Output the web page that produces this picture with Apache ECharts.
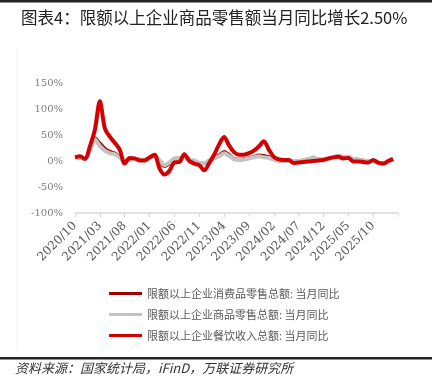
<!DOCTYPE html>
<html>
<head>
<meta charset="utf-8">
<script src="https://cdn.jsdelivr.net/npm/echarts@6/dist/echarts.min.js"></script>
<style>
html,body{margin:0;padding:0;background:#fff}
#chart{width:441px;height:392px}
</style>
</head>
<body>
<div id="chart"></div>
<script>
// 月份（2020/10 - 2026/03），最后一个月只用于坐标轴末端
const months = [
  '2020/10','2020/11','2020/12','2021/01','2021/02','2021/03','2021/04','2021/05','2021/06','2021/07',
  '2021/08','2021/09','2021/10','2021/11','2021/12','2022/01','2022/02','2022/03','2022/04','2022/05',
  '2022/06','2022/07','2022/08','2022/09','2022/10','2022/11','2022/12','2023/01','2023/02','2023/03',
  '2023/04','2023/05','2023/06','2023/07','2023/08','2023/09','2023/10','2023/11','2023/12','2024/01',
  '2024/02','2024/03','2024/04','2024/05','2024/06','2024/07','2024/08','2024/09','2024/10','2024/11',
  '2024/12','2025/01','2025/02','2025/03','2025/04','2025/05','2025/06','2025/07','2025/08','2025/09',
  '2025/10','2025/11','2025/12','2026/01','2026/02','2026/03'
];

const seriesNames = [
  '限额以上企业消费品零售总额: 当月同比',
  '限额以上企业商品零售总额: 当月同比',
  '限额以上企业餐饮收入总额: 当月同比'
];

// 消费品零售总额 当月同比 (%)
const consumerGoods = [
  7, 6, 4, 21, 44, 34, 24, 18, 15, 8,
  0, 3, 4, 3, 2, 6, 9, 0, -10, -5,
  4, 5, 8, 3, 0, -4, -5, 1, 6, 11,
  18, 12, 4, 3, 4, 6, 8, 11, 10, 8,
  3, 1, 0, 1, 0, 0, 2, 3, 6, 3,
  3, 4, 8, 9, 8, 8, 3, 3, 1, 0,
  0, -3, -5, -2, 3
];

// 商品零售总额 当月同比 (%)
const commodityRetail = [
  7, 6, 4, 20, 42, 29, 20, 15, 13, 7,
  0, 3, 4, 3, 2, 6, 9, 2, -8, -3,
  5, 6, 7, 3, 1, -4, -4, 1, 5, 9,
  15, 10, 3, 2, 3, 5, 7, 9, 7, 6,
  3, 1, 0, 1, 0, 0, 2, 4, 7, 3,
  3, 4, 8, 9, 8, 8, 4, 3, 1, 0,
  0, -3, -5, -2, 2.5
];

// 餐饮收入总额 当月同比 (%)
const cateringIncome = [
  7, 9, 4, 28, 60, 115, 63, 47, 35, 22,
  -5, 6, 5, 1, 1, 7, 12, -14, -26, -19,
  -3, -2, 13, 0, -5, -8, -18, -4, 12, 32,
  46, 30, 17, 12, 12, 15, 20, 28, 38, 22,
  8, 3, 2, 2, -4, -3, -2, -1, 0, 1,
  2, 5, 7, 8, 5, 6, -1, -1, -2, -3,
  2, -3, -5, 0, 4
];

const seriesColors = ['#a00000', '#c3c3c3', '#d20000'];
const seriesWidths = [3.5, 4, 4];
const seriesData = [consumerGoods, commodityRetail, cateringIncome];

const chart = echarts.init(document.getElementById('chart'), null, {renderer: 'canvas'});

const option = {
  animation: false,
  backgroundColor: '#fff',
  title: {
    text: '图表4：限额以上企业商品零售额当月同比增长2.50%',
    left: 16,
    top: 4,
    textStyle: {
      fontFamily: 'Noto Sans CJK SC',
      fontSize: 16.5,
      fontWeight: 'normal',
      color: '#222'
    }
  },
  grid: {left: 75, right: 43, top: 83, bottom: 179},
  legend: {
    orient: 'vertical',
    left: 104,
    top: 283,
    icon: 'rect',
    itemWidth: 33,
    itemHeight: 3,
    itemGap: 10,
    itemStyle: {borderWidth: 0},
    data: seriesNames,
    textStyle: {fontFamily: 'Noto Sans CJK SC', fontSize: 11, color: '#595959'}
  },
  xAxis: [
    {
      type: 'category',
      data: months,
      boundaryGap: false,
      axisLine: {show: false},
      axisTick: {show: false},
      axisLabel: {
        rotate: 45,
        margin: 11,
        interval: (idx) => idx % 5 === 0 && idx < 65,
        fontFamily: 'DejaVu Serif',
        fontSize: 12,
        color: '#595959'
      }
    },
    {
      type: 'category',
      data: months,
      boundaryGap: false,
      position: 'bottom',
      axisLine: {onZero: true, lineStyle: {color: '#d9d9d9', width: 1.5}},
      axisTick: {show: true, interval: 4, length: 4, lineStyle: {color: '#d9d9d9', width: 1}},
      axisLabel: {show: false}
    }
  ],
  yAxis: {
    type: 'value',
    min: -100,
    max: 150,
    interval: 50,
    splitLine: {show: false},
    axisLine: {show: false},
    axisTick: {show: false},
    axisLabel: {
      formatter: '{value}%',
      margin: 12,
      fontFamily: 'DejaVu Serif',
      fontSize: 10,
      color: '#7f7f7f'
    }
  },
  series: seriesNames.map((name, k) => ({
    name: name,
    type: 'line',
    xAxisIndex: 0,
    data: seriesData[k],
    smooth: 0.3,
    showSymbol: false,
    symbol: 'none',
    color: seriesColors[k],
    lineStyle: {color: seriesColors[k], width: seriesWidths[k]}
  })),
  graphic: [
    {type: 'rect', shape: {x: 0, y: 0, width: 432, height: 2.5}, style: {fill: '#222'}},
    {type: 'rect', shape: {x: 0, y: 357, width: 432, height: 2.5}, style: {fill: '#222'}},
    {type: 'line', shape: {x1: 17, y1: 48, x2: 17, y2: 350}, style: {stroke: '#eeeeee', lineWidth: 1}},
    {
      type: 'text',
      left: 15,
      top: 362,
      style: {
        text: '资料来源：国家统计局，iFinD，万联证券研究所',
        font: 'italic 13px "Noto Sans CJK SC"',
        fill: '#333'
      }
    }
  ]
};

chart.setOption(option);
</script>
</body>
</html>
